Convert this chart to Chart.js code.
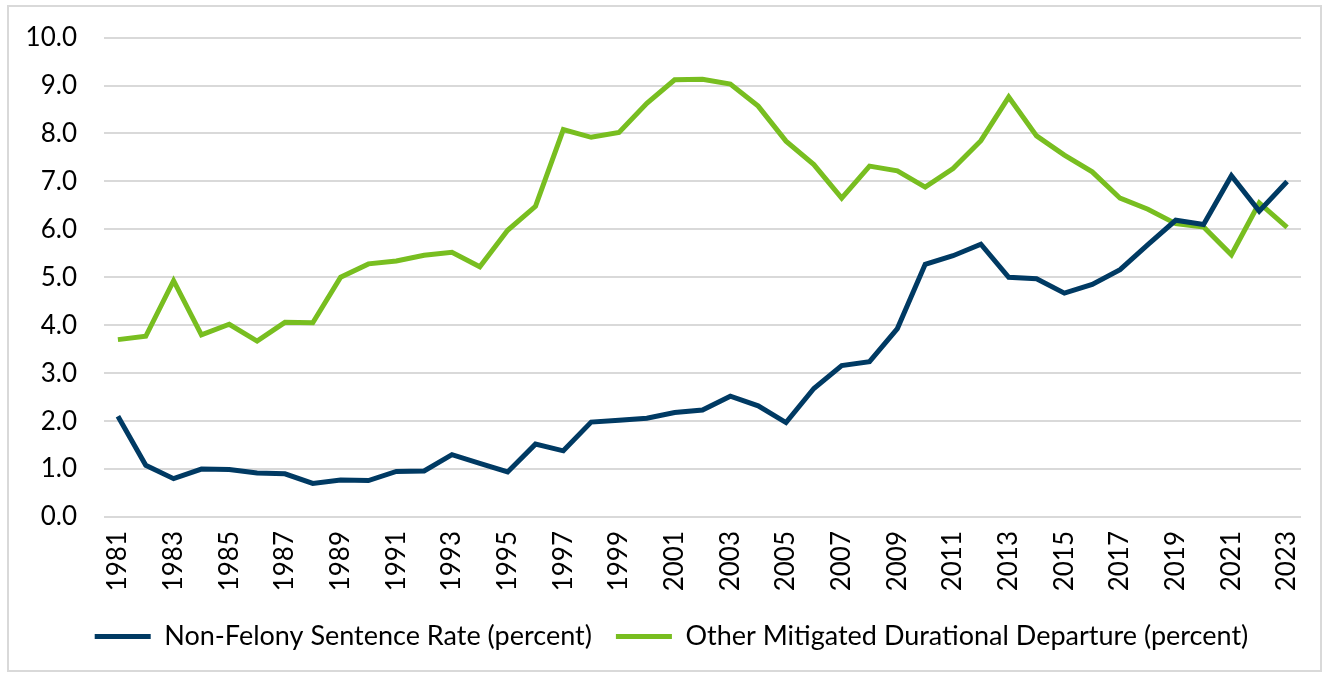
<!DOCTYPE html>
<html>
<head>
<meta charset="utf-8">
<script src="https://cdn.jsdelivr.net/npm/chart.js@4.4.1/dist/chart.umd.min.js"></script>
<style>
    body { margin: 0; background: #fff; }
    #wrap { position: absolute; left: 7px; top: 5px; width: 1311px; height: 663px; border: 2px solid #d9d9d9; }
    #chart { position: absolute; left: -9px; top: -12px; }
</style>
</head>
<body>
<div id="wrap"><canvas id="chart" width="1325" height="680"></canvas></div>
<script>
var years = [];
for (var y = 1981; y <= 2023; y++) { years.push(String(y)); }

var nonFelonyRate = [2.10, 1.08, 0.80, 1.00, 0.99, 0.92, 0.90, 0.70, 0.77, 0.76,
                     0.95, 0.96, 1.30, 1.12, 0.94, 1.52, 1.38, 1.98, 2.02, 2.06,
                     2.18, 2.23, 2.52, 2.32, 1.97, 2.68, 3.16, 3.24, 3.93, 5.27,
                     5.45, 5.69, 5.00, 4.97, 4.67, 4.85, 5.16, 5.68, 6.19, 6.10,
                     7.12, 6.38, 7.00];

var otherMitigated = [3.70, 3.77, 4.93, 3.80, 4.02, 3.67, 4.06, 4.05, 5.00, 5.28,
                      5.34, 5.46, 5.52, 5.22, 5.98, 6.48, 8.08, 7.92, 8.02, 8.63,
                      9.12, 9.13, 9.03, 8.57, 7.84, 7.35, 6.65, 7.32, 7.22, 6.88,
                      7.27, 7.85, 8.76, 7.95, 7.55, 7.20, 6.65, 6.42, 6.12, 6.05,
                      5.47, 6.55, 6.04];

var seriesNames = ["Non-Felony Sentence Rate (percent)", "Other Mitigated Durational Departure (percent)"];
var seriesColors = ["#003a63", "#78be20"];

var fontFamily = "Lato, 'Open Sans', sans-serif";

// the legend in the original sits a bit right of centre
var legendShift = {
    id: 'legendShift',
    afterLayout: function(chart) {
        chart.legend.left += 21;
        chart.legend.right += 21;
    }
};

var ctx = document.getElementById("chart").getContext("2d");

var chart = new Chart(ctx, {
    type: 'line',
    data: {
        labels: years,
        datasets: [
            {
                label: seriesNames[0],
                data: nonFelonyRate,
                borderColor: seriesColors[0],
                backgroundColor: seriesColors[0],
                borderWidth: 5,
                pointRadius: 0,
                tension: 0,
                fill: false
            },
            {
                label: seriesNames[1],
                data: otherMitigated,
                borderColor: seriesColors[1],
                backgroundColor: seriesColors[1],
                borderWidth: 5,
                pointRadius: 0,
                tension: 0,
                fill: false
            }
        ]
    },
    plugins: [legendShift],
    options: {
        responsive: false,
        animation: false,
        layout: {
            padding: { top: 14, right: 24, bottom: 15, left: 0 }
        },
        plugins: {
            tooltip: { enabled: false },
            legend: {
                position: 'bottom',
                labels: {
                    usePointStyle: true,
                    pointStyle: 'line',
                    pointStyleWidth: 56,
                    boxHeight: 5,
                    padding: 24,
                    color: '#000',
                    font: { family: fontFamily, size: 27 }
                }
            }
        },
        scales: {
            x: {
                offset: true,
                grid: { display: false },
                border: { display: false },
                ticks: {
                    autoSkip: false,
                    maxRotation: 90,
                    minRotation: 90,
                    padding: 6,
                    color: '#000',
                    font: { family: fontFamily, size: 26 },
                    callback: function(value, index) {
                        return index % 2 === 0 ? this.getLabelForValue(value) : '';
                    }
                },
                afterFit: function(scale) { scale.height = 82; }
            },
            y: {
                min: 0,
                max: 10,
                grid: { color: '#d9d9d9', lineWidth: 2, drawTicks: false },
                border: { display: false },
                ticks: {
                    stepSize: 1,
                    padding: 27,
                    color: '#000',
                    font: { family: fontFamily, size: 26 },
                    callback: function(value) { return value.toFixed(1); }
                },
                afterFit: function(scale) { scale.width = 104; }
            }
        }
    }
});
</script>
</body>
</html>
